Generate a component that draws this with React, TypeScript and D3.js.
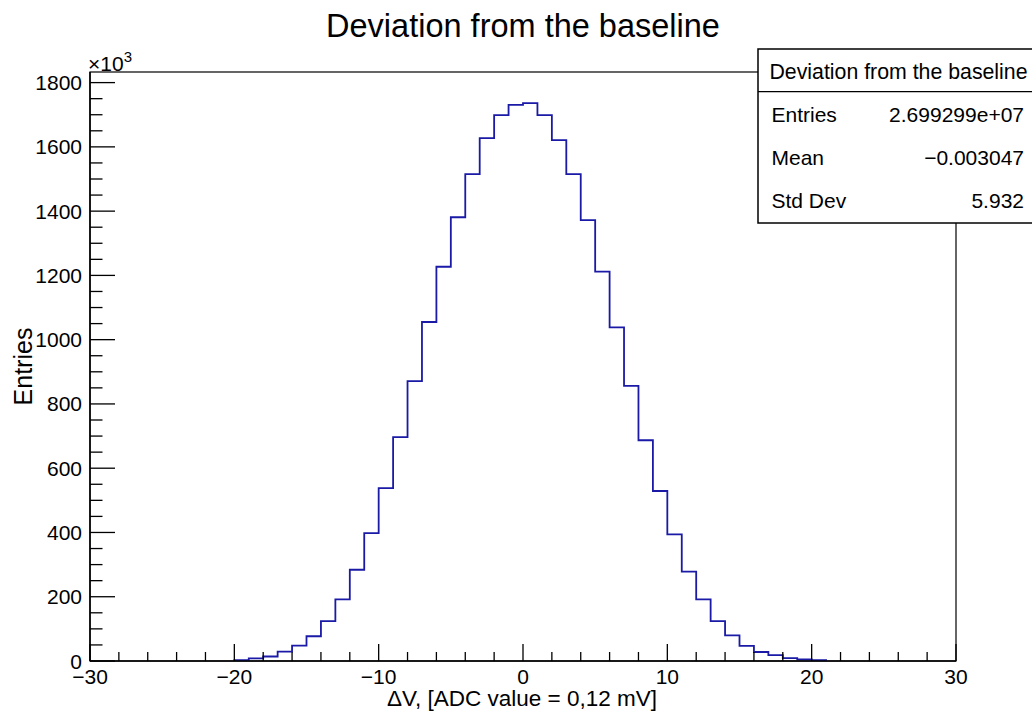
import React from "react";
import * as d3 from "d3";

const binLow: number[] = [
  -20, -19, -18, -17, -16, -15, -14, -13, -12, -11, -10, -9, -8, -7, -6, -5, -4, -3, -2, -1,
  0, 1, 2, 3, 4, 5, 6, 7, 8, 9, 10, 11, 12, 13, 14, 15, 16, 17, 18, 19, 20,
];
const binWidth = 1;
// counts in units of 10^3
const counts: number[] = [
  3, 8, 14, 29, 48, 77, 124, 192, 284, 398, 538, 697, 871, 1055, 1227, 1381, 1515, 1627, 1699, 1731,
  1736, 1699, 1621, 1515, 1372, 1212, 1038, 856, 687, 529, 394, 278, 192, 124, 80, 47, 28, 18, 9, 5, 3,
];
const xMajorTicks: number[] = [-30, -20, -10, 0, 10, 20, 30];
const yMajorTicks: number[] = [0, 200, 400, 600, 800, 1000, 1200, 1400, 1600, 1800];
const title = "Deviation from the baseline";
const xTitle = "ΔV, [ADC value = 0,12 mV]";
const yTitle = "Entries";
const statsLabels: string[] = ["Entries", "Mean", "Std Dev"];
const statsValues: string[] = ["2.699299e+07", "\u22120.003047", "5.932"];

const W = 1032;
const H = 714;
const FONT = "'Liberation Sans', Arial, Helvetica, sans-serif";

function fmt(v: number): string {
  return v < 0 ? "\u2212" + String(-v) : String(v);
}

export default function App() {
  const x = d3.scaleLinear().domain([-30, 30]).range([90, 956]);
  const y = d3.scaleLinear().domain([0, 1833]).range([661, 72]);

  // step outline
  const pts: [number, number][] = [];
  pts.push([x(binLow[0]), y(0)]);
  counts.forEach((c, i) => {
    pts.push([x(binLow[i]), y(c)]);
    pts.push([x(binLow[i] + binWidth), y(c)]);
  });
  pts.push([x(binLow[binLow.length - 1] + binWidth), y(0)]);
  const line = d3.line<[number, number]>().x((d) => d[0]).y((d) => d[1]);
  const path = line(pts) || "";

  const xMinor = d3.range(-30, 30.001, 2).filter((v) => !xMajorTicks.includes(v));
  const yMinor = d3.range(0, 1833, 50).filter((v) => !yMajorTicks.includes(v));

  const x0 = x.range()[0];
  const x1 = x.range()[1];
  const y0 = y.range()[0];
  const y1 = y.range()[1];

  return (
    <svg
      width={W}
      height={H}
      style={{ position: "absolute", left: 0, top: 0, background: "#fff" }}
      fontFamily={FONT}
    >
      <rect x={0} y={0} width={W} height={H} fill="#fff" />
      {/* frame */}
      <rect x={x0} y={y1} width={x1 - x0} height={y0 - y1} fill="none" stroke="#000" strokeWidth={1.2} />
      {/* histogram */}
      <path d={path} fill="none" stroke="#1a1aa6" strokeWidth={1.8} />
      {/* axes */}
      <line x1={x0} x2={x1} y1={y0} y2={y0} stroke="#000" strokeWidth={1.5} />
      <line x1={x0} x2={x0} y1={y0} y2={y1} stroke="#000" strokeWidth={1.5} />
      {xMajorTicks.map((t) => (
        <g key={"xm" + t}>
          <line x1={x(t)} x2={x(t)} y1={y0} y2={y0 - 17} stroke="#000" strokeWidth={1.3} />
          <text x={x(t)} y={y0 + 23} fontSize={21} textAnchor="middle" fill="#000">
            {fmt(t)}
          </text>
        </g>
      ))}
      {xMinor.map((t) => (
        <line key={"xn" + t} x1={x(t)} x2={x(t)} y1={y0} y2={y0 - 9} stroke="#000" strokeWidth={1.3} />
      ))}
      {yMajorTicks.map((t) => (
        <g key={"ym" + t}>
          <line x1={x0} x2={x0 + 25} y1={y(t)} y2={y(t)} stroke="#000" strokeWidth={1.3} />
          <text x={82} y={y(t) + 7.5} fontSize={21} textAnchor="end" fill="#000">
            {fmt(t)}
          </text>
        </g>
      ))}
      {yMinor.map((t) => (
        <line key={"yn" + t} x1={x0} x2={x0 + 12.5} y1={y(t)} y2={y(t)} stroke="#000" strokeWidth={1.3} />
      ))}
      {/* exponent */}
      <text x={88} y={71} fontSize={21} fill="#000">
        ×10
        <tspan fontSize={15} dy={-9}>3</tspan>
      </text>
      {/* titles */}
      <text x={523} y={37} fontSize={32.5} textAnchor="middle" fill="#000">
        {title}
      </text>
      <text x={522} y={706} fontSize={22.5} textAnchor="middle" fill="#000">
        {xTitle}
      </text>
      <text
        transform={`translate(32, ${(y0 + y1) / 2}) rotate(-90)`}
        fontSize={25}
        textAnchor="middle"
        fill="#000"
      >
        {yTitle}
      </text>
      {/* stats box */}
      <rect x={758} y={49} width={290} height={174} fill="#fff" stroke="#000" strokeWidth={1.5} />
      <line x1={758} x2={W} y1={91.7} y2={91.7} stroke="#000" strokeWidth={1.3} />
      <text x={898.5} y={78.5} fontSize={21.3} textAnchor="middle" fill="#000">
        {title}
      </text>
      {statsLabels.map((l, i) => (
        <g key={l}>
          <text x={771.5} y={121.7 + i * 43.2} fontSize={21} fill="#000">
            {l}
          </text>
          <text x={1024} y={121.7 + i * 43.2} fontSize={21} textAnchor="end" fill="#000">
            {statsValues[i]}
          </text>
        </g>
      ))}
    </svg>
  );
}
